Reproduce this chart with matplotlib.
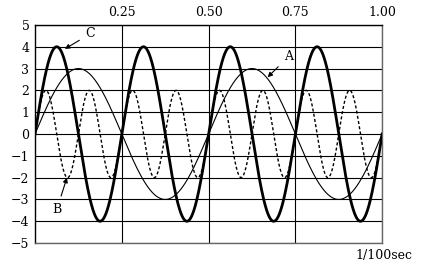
import numpy as np
import matplotlib.pyplot as plt

# wave parameters (amplitude, cycles per 1/100 s)
names = ['A', 'B', 'C']
amplitudes = [3, 2, 4]
cycles = [2, 8, 4]
styles = ['-', '--', '-']
widths = [0.8, 1.0, 2.0]

x_ticks = [0.25, 0.50, 0.75, 1.00]
x_tick_labels = ['0.25', '0.50', '0.75', '1.00']
y_ticks = list(range(-5, 6))
y_tick_labels = [str(v).replace('-', '\u2212') for v in y_ticks]

# label text position and arrow tip, data coords
label_text = {'A': (0.73, 3.55), 'B': (0.063, -3.45), 'C': (0.16, 4.6)}
label_tip = {'A': (0.67, 2.6), 'B': (0.092, -2.0), 'C': (0.086, 3.9)}

plt.rcParams['font.family'] = ['DejaVu Serif']

fig = plt.figure(figsize=(4.27, 2.68), dpi=100)
ax = fig.add_axes([0.082, 0.093, 0.813, 0.814])

t = np.linspace(0, 1, 2000)
for name, amp, f, ls, lw in zip(names, amplitudes, cycles, styles, widths):
    y = amp * np.sin(2 * np.pi * f * t)
    line, = ax.plot(t, y, color='black', lw=lw, ls=ls, zorder=3)
    if ls == '--':
        line.set_dashes((2.2, 1.6))

for name in names:
    ax.annotate(name, xy=label_tip[name], xytext=label_text[name],
                fontsize=9, ha='center', va='center',
                arrowprops=dict(arrowstyle='-|>', color='black', lw=0.8,
                                mutation_scale=7, shrinkA=3, shrinkB=0))

ax.set_xlim(0, 1)
ax.set_ylim(-5, 5)
ax.xaxis.tick_top()
ax.set_xticks(x_ticks)
ax.set_xticklabels(x_tick_labels)
ax.set_yticks(y_ticks)
ax.set_yticklabels(y_tick_labels)
ax.tick_params(length=0, labelsize=9, pad=4)
ax.grid(True, color='black', lw=0.8)
ax.set_axisbelow(True)

for side in ['left', 'top']:
    ax.spines[side].set_color('black')
for side in ['right', 'bottom']:
    ax.spines[side].set_color('#666666')
for s in ax.spines.values():
    s.set_linewidth(1.0)

fig.text(0.967, 0.045, '1/100sec', ha='right', va='center', fontsize=9)

fig.savefig('out.png', dpi=100)
